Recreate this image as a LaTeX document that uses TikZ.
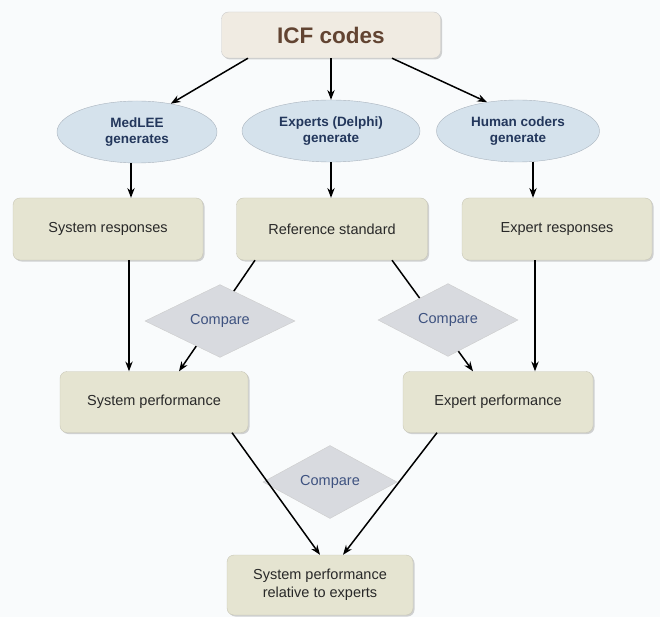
\documentclass[tikz,border=0pt]{standalone}
\usepackage{fontspec}
\setmainfont{Liberation Sans}
\usetikzlibrary{arrows.meta, positioning, shapes.geometric, shadows}
\definecolor{bgc}{RGB}{249,251,252}
\definecolor{boxfill}{RGB}{229,228,209}
\definecolor{boxline}{RGB}{200,198,182}
\definecolor{boxtext}{RGB}{40,40,40}
\definecolor{icffill}{RGB}{240,235,226}
\definecolor{icftext}{RGB}{98,68,50}
\definecolor{genfill}{RGB}{213,226,236}
\definecolor{genline}{RGB}{170,180,190}
\definecolor{gentext}{RGB}{35,55,92}
\definecolor{cmpfill}{RGB}{216,218,223}
\definecolor{cmptext}{RGB}{62,82,128}

\begin{document}
\begin{tikzpicture}[>=Stealth, x=1pt, y=-1pt,
  box/.style={rectangle, rounded corners=7pt, fill=boxfill, draw=boxline,
    minimum width=190pt, minimum height=62pt, align=center, text=boxtext,
    font=\fontsize{14.5}{18}\selectfont,
    drop shadow={shadow xshift=1.5pt, shadow yshift=-1.5pt, fill=black!35}},
  gen/.style={ellipse, fill=genfill, draw=genline, minimum height=62pt,
    inner sep=0pt, align=center, text=gentext,
    font=\fontsize{13.5}{16.5}\selectfont\bfseries},
  cmp/.style={diamond, fill=cmpfill, draw=black!20, inner sep=0pt,
    text=cmptext, font=\fontsize{14.5}{16}\selectfont},
  arr/.style={->, line width=1.5pt}]
  \fill[bgc](0,0) rectangle (660,617);
  \useasboundingbox (0,0) rectangle (660,617);
  % top
  \node[box, fill=icffill, draw=black!20, minimum width=219pt, minimum height=46pt,
    text=icftext, font=\fontsize{22.5}{24}\selectfont\bfseries] (icf) at (331,35) {ICF codes};
  \node[gen, minimum width=160pt] (medlee) at (137,132) {MedLEE\\generates};
  \node[gen, minimum width=178pt] (delphi) at (331,131) {Experts (Delphi)\\generate};
  \node[gen, minimum width=163pt] (human) at (518,131) {Human coders\\generate};
  % responses
  \node[box] (sysresp) at (108,229) {System responses};
  \node[box, minimum width=191pt] (refstd) at (332,229) {Reference standard};
  \node[box] (expresp) at (557,229) {Expert responses};
  % performance
  \node[box, minimum width=188pt, minimum height=61pt] (sysperf) at (154,402) {System performance};
  \node[box, minimum height=61pt] (expperf) at (498,402) {Expert performance};
  \node[box, minimum width=186pt, minimum height=60pt] (rel) at (320,585)
    {System performance\\relative to experts};
  \node[cmp, minimum width=134pt, minimum height=73pt] (cmpB) at (330,482) {Compare};
  % arrows
  \draw[arr]([xshift=-83pt]icf.south) -- (medlee.40);
  \draw[arr](icf.south) -- (delphi.north);
  \draw[arr]([xshift=61pt]icf.south) -- (human.137);
  \draw[arr]([xshift=-6pt]medlee.south) -- ([xshift=-6pt]medlee.south |- sysresp.north);
  \draw[arr](delphi.south) -- (delphi.south |- refstd.north);
  \draw[arr]([xshift=15pt]human.south) -- ([xshift=15pt]human.south |- expresp.north);
  \draw[arr]([xshift=21pt]sysresp.south) -- ([xshift=21pt]sysresp.south |- sysperf.north);
  \draw[arr]([xshift=-77pt]refstd.south) -- ([xshift=25pt]sysperf.north);
  \draw[arr]([xshift=60pt]refstd.south) -- ([xshift=-25pt]expperf.north);
  \draw[arr]([xshift=-22pt]expresp.south) -- ([xshift=-22pt]expresp.south |- expperf.north);
  \draw[arr]([xshift=78pt]sysperf.south) -- (rel.north);
  \draw[arr]([xshift=-61pt]expperf.south) -- ([xshift=23pt]rel.north);
  % compare boxes over the lines
  \node[cmp, minimum width=150pt, minimum height=70pt] (cmpL) at (220,321) {Compare};
  \node[cmp, minimum width=140pt, minimum height=72pt] (cmpR) at (448,320) {Compare};
\end{tikzpicture}
\end{document}
